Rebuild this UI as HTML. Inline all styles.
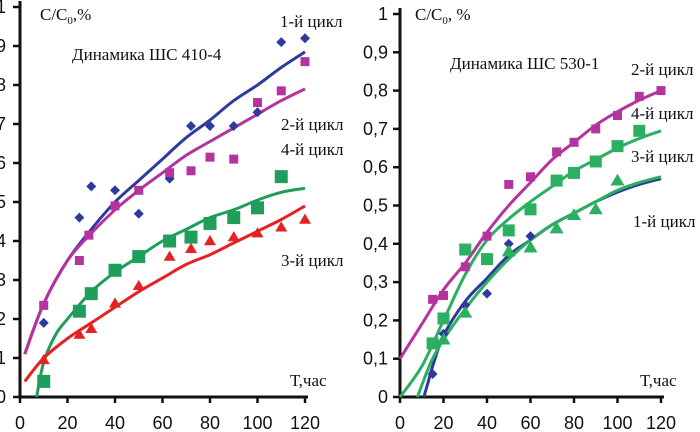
<!DOCTYPE html>
<html><head><meta charset="utf-8"><style>
body{margin:0;background:#fff;width:700px;height:432px;overflow:hidden}
svg{display:block}
.tk{font-family:"Liberation Sans",sans-serif;font-size:18px;fill:#111}
.lb{font-family:"Liberation Serif","DejaVu Serif",serif;font-size:17px;fill:#111}
</style></head><body>
<svg id="c" width="700" height="432" viewBox="0 0 700 432">
<text class="lb" x="40" y="20">C/C<tspan font-size="11" dy="4">0</tspan><tspan dy="-4">,%</tspan></text>
<text class="lb" x="280" y="27">1-й цикл</text>
<text class="lb" x="72" y="60" font-size="19">Динамика ШС 410-4</text>
<text class="lb" x="281" y="130">2-й цикл</text>
<text class="lb" x="281" y="155">4-й цикл</text>
<text class="lb" x="281" y="266">3-й цикл</text>
<text class="lb" x="290" y="386">Т,час</text>
<text class="lb" x="415" y="20">C/C<tspan font-size="11" dy="4">0</tspan><tspan dy="-4">, %</tspan></text>
<text class="lb" x="450" y="69" font-size="19">Динамика ШС 530-1</text>
<text class="lb" x="631" y="75">2-й цикл</text>
<text class="lb" x="631" y="119">4-й цикл</text>
<text class="lb" x="631" y="162">3-й цикл</text>
<text class="lb" x="633" y="227">1-й цикл</text>
<text class="lb" x="640" y="386">Т,час</text>
</svg>
<script>
const xTicks=[0,20,40,60,80,100,120];
const yTicks=[0,0.1,0.2,0.3,0.4,0.5,0.6,0.7,0.8,0.9,1];
const yTickLabels=["0","0,1","0,2","0,3","0,4","0,5","0,6","0,7","0,8","0,9","1"];
// Left chart data
const L1pts=[[10,0.19],[25,0.46],[30,0.54],[40,0.53],[50,0.47],[63,0.56],[72,0.695],[80,0.695],[90,0.695],[100,0.73],[110,0.91],[120,0.92]];
const L1fit=[[2,0.11],[10,0.24],[20,0.35],[30,0.43],[40,0.5],[50,0.555],[60,0.61],[70,0.665],[80,0.71],[90,0.76],[100,0.8],[110,0.845],[120,0.885]];
const L2pts=[[10,0.235],[25,0.35],[29,0.415],[40,0.49],[50,0.53],[63,0.575],[72,0.58],[80,0.615],[90,0.61],[100,0.755],[110,0.785],[120,0.86]];
const L2fit=[[2,0.11],[10,0.24],[20,0.35],[30,0.42],[40,0.48],[50,0.53],[60,0.575],[70,0.62],[80,0.655],[90,0.69],[100,0.725],[110,0.76],[120,0.79]];
const L4pts=[[10,0.04],[25,0.22],[30,0.265],[40,0.325],[50,0.36],[63,0.4],[72,0.41],[80,0.445],[90,0.46],[100,0.485],[110,0.565]];
const L4fit=[[7,0],[10,0.09],[15,0.16],[20,0.2],[30,0.27],[40,0.32],[50,0.36],[60,0.4],[70,0.43],[80,0.46],[90,0.48],[100,0.505],[110,0.525],[120,0.535]];
const L3pts=[[10,0.095],[25,0.16],[30,0.175],[40,0.24],[50,0.285],[63,0.36],[72,0.38],[80,0.4],[90,0.41],[100,0.42],[110,0.435],[120,0.455]];
const L3fit=[[2,0.04],[10,0.1],[20,0.15],[30,0.19],[40,0.23],[50,0.27],[60,0.305],[70,0.34],[80,0.365],[90,0.395],[100,0.425],[110,0.455],[120,0.49]];
// Right chart data
const R2pts=[[15,0.255],[20,0.265],[30,0.34],[40,0.42],[50,0.555],[60,0.575],[72,0.64],[80,0.665],[90,0.7],[100,0.735],[110,0.785],[120,0.8]];
const R2fit=[[0,0.1],[10,0.19],[20,0.28],[30,0.35],[40,0.43],[50,0.5],[60,0.56],[70,0.62],[80,0.665],[90,0.71],[100,0.745],[110,0.775],[120,0.8]];
const R4pts=[[15,0.14],[20,0.205],[30,0.385],[40,0.36],[50,0.435],[60,0.49],[72,0.565],[80,0.585],[90,0.615],[100,0.655],[110,0.695]];
const R4fit=[[0,0],[10,0.08],[20,0.2],[30,0.32],[40,0.41],[50,0.465],[60,0.51],[70,0.55],[80,0.59],[90,0.62],[100,0.65],[110,0.675],[120,0.695]];
const R3pts=[[20,0.15],[30,0.22],[50,0.38],[60,0.39],[72,0.44],[80,0.475],[90,0.49],[100,0.565]];
const R3fit=[[8,0],[12,0.06],[15,0.1],[20,0.15],[30,0.23],[40,0.3],[50,0.36],[60,0.41],[70,0.45],[80,0.48],[90,0.51],[100,0.54],[110,0.56],[120,0.575]];
const R1pts=[[15,0.06],[20,0.165],[30,0.24],[40,0.27],[50,0.4],[60,0.42]];
const R1fit=[[11,0],[13,0.04],[15,0.08],[20,0.16],[30,0.25],[40,0.31],[50,0.37],[60,0.41],[70,0.45],[80,0.48],[90,0.51],[100,0.535],[110,0.555],[120,0.57]];

const svg=document.getElementById('c');
const NS='http://www.w3.org/2000/svg';
function mk(tag,attrs){const e=document.createElementNS(NS,tag);for(const k in attrs)e.setAttribute(k,attrs[k]);svg.appendChild(e);return e;}
function axes(x0,x1,y0,pxPerUnit){return {x:t=>x0+(x1-x0)*t/120,y:v=>y0-v*pxPerUnit};}
const LA=axes(20,305,397,390);
const RA=axes(400,661,397,383);

function drawAxes(A,pre,lblX){
  const ax=mk('path',{d:`M${A.x(0)},${A.y(1.0)-6}V${A.y(0)}H${A.x(120)+3}`,stroke:'#111','stroke-width':3,fill:'none'});
  
  
  xTicks.forEach(t=>{
    const l=mk('line',{x1:A.x(t),x2:A.x(t),y1:A.y(0),y2:A.y(0)+6,stroke:'#111','stroke-width':2.5});
    
    
    const tx=mk('text',{x:A.x(t),y:429,'text-anchor':'middle',class:'tk'});tx.textContent=t;
    
    
  });
  yTicks.forEach((v,i)=>{
    const l=mk('line',{x1:A.x(0)-7,x2:A.x(0),y1:A.y(v),y2:A.y(v),stroke:'#111','stroke-width':2.5});
    
    
    const tx=mk('text',{x:lblX,y:A.y(v)+6,'text-anchor':'end',class:'tk'});tx.textContent=yTickLabels[i];
    
    
  });
}
drawAxes(LA,'left',6);
drawAxes(RA,'right',388);

function line(A,pts,color,name){
  const P=pts.map(p=>[A.x(p[0]),A.y(p[1])]);
  let d='M'+P[0][0].toFixed(1)+','+P[0][1].toFixed(1);
  for(let i=0;i<P.length-1;i++){
    const p0=P[i-1]||P[i],p1=P[i],p2=P[i+1],p3=P[i+2]||P[i+1];
    const c1=[p1[0]+(p2[0]-p0[0])/6,p1[1]+(p2[1]-p0[1])/6];
    const c2=[p2[0]-(p3[0]-p1[0])/6,p2[1]-(p3[1]-p1[1])/6];
    d+=`C${c1[0].toFixed(1)},${c1[1].toFixed(1)} ${c2[0].toFixed(1)},${c2[1].toFixed(1)} ${p2[0].toFixed(1)},${p2[1].toFixed(1)}`;
  }
  const e=mk('path',{d,stroke:color,'stroke-width':3,fill:'none','stroke-linejoin':'round'});
  
  
}
function marks(A,pts,shape,color,size,name){
  pts.forEach(p=>{
    const x=A.x(p[0]),y=A.y(p[1]);let e;
    if(shape==='sq')e=mk('rect',{x:x-size/2,y:y-size/2,width:size,height:size,fill:color});
    else if(shape==='di')e=mk('path',{d:`M${x},${y-size}L${x+size},${y}L${x},${y+size}L${x-size},${y}Z`,fill:color});
    else e=mk('path',{d:`M${x},${y-size}L${x+size},${y+size*0.7}L${x-size},${y+size*0.7}Z`,fill:color});
    
    
  });
}
const BLUE='#2e3a9e',MAG='#b4339e',GRN='#1e9e5a',GRN2='#2ab060',RED='#e52222';
line(LA,L1fit,BLUE,'left-cycle-1-fit');
line(LA,L2fit,MAG,'left-cycle-2-fit');
line(LA,L4fit,GRN,'left-cycle-4-fit');
line(LA,L3fit,RED,'left-cycle-3-fit');
marks(LA,L1pts,'di',BLUE,5,'left-cycle-1-point');
marks(LA,L2pts,'sq',MAG,9,'left-cycle-2-point');
marks(LA,L4pts,'sq',GRN,13,'left-cycle-4-point');
marks(LA,L3pts,'tri',RED,6,'left-cycle-3-point');
line(RA,R1fit,BLUE,'right-cycle-1-fit');
line(RA,R3fit,GRN2,'right-cycle-3-fit');
line(RA,R4fit,GRN2,'right-cycle-4-fit');
line(RA,R2fit,MAG,'right-cycle-2-fit');
marks(RA,R1pts,'di',BLUE,5,'right-cycle-1-point');
marks(RA,R3pts,'tri',GRN2,7,'right-cycle-3-point');
marks(RA,R4pts,'sq',GRN2,12,'right-cycle-4-point');
marks(RA,R2pts,'sq',MAG,9,'right-cycle-2-point');
</script>
</body></html>
